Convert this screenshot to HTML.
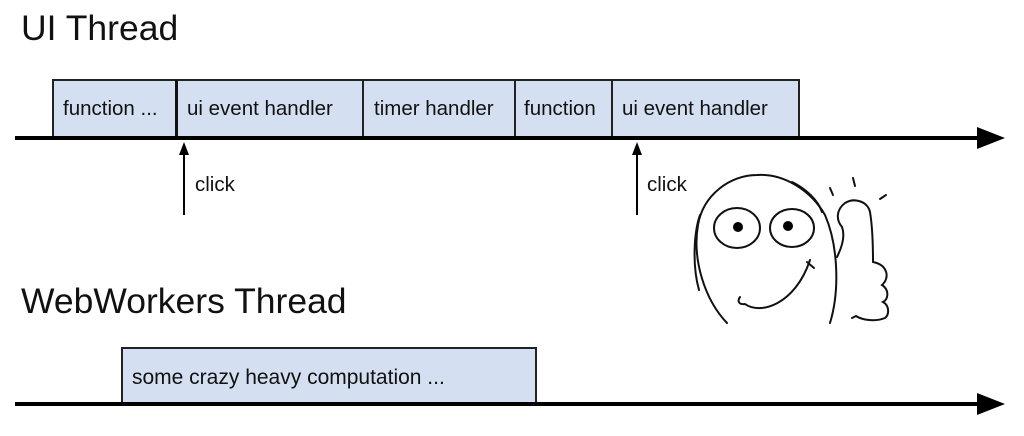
<!DOCTYPE html>
<html><head><meta charset="utf-8"><style>
html,body{margin:0;padding:0;background:#fff;}
svg{display:block;}
text{font-family:"Liberation Sans",Arial,sans-serif;fill:#111;}
</style></head><body>
<svg width="1024" height="436" viewBox="0 0 1024 436" xmlns="http://www.w3.org/2000/svg">
<text x="21" y="40" font-size="35.5">UI Thread</text>
<text x="21" y="313" font-size="35.5">WebWorkers Thread</text>

<g fill="#d4e0f1" stroke="#222" stroke-width="2">
<rect x="53" y="80" width="124" height="57"/>
<rect x="177" y="80" width="186" height="57"/>
<rect x="363" y="80" width="152" height="57"/>
<rect x="515" y="80" width="97" height="57"/>
<rect x="612" y="80" width="187" height="57"/>
<rect x="122" y="348" width="414" height="56"/>
</g>
<line x1="176.5" y1="80" x2="176.5" y2="137" stroke="#111" stroke-width="3"/>
<g font-size="20.5">
<text x="63" y="115">function ...</text>
<text x="187" y="115">ui event handler</text>
<text x="374" y="115">timer handler</text>
<text x="524" y="115">function</text>
<text x="622" y="115">ui event handler</text>
<text x="132" y="384" font-size="21">some crazy heavy computation ...</text>
<text x="195" y="191">click</text>
<text x="647" y="191">click</text>
</g>

<rect x="15" y="136" width="965" height="4" fill="#000"/>
<polygon points="977,127 1005,138 977,149" fill="#000"/>
<rect x="15" y="402" width="965" height="4" fill="#000"/>
<polygon points="977,393 1005,404 977,415" fill="#000"/>

<g stroke="#000" stroke-width="2">
<line x1="184" y1="152" x2="184" y2="215"/>
<line x1="637" y1="152" x2="637" y2="215"/>
</g>
<polygon points="184,142 179,155 189,155" fill="#000"/>
<polygon points="637,142 632,155 642,155" fill="#000"/>

<g fill="none" stroke="#111" stroke-width="2" stroke-linecap="round">
<path d="M727,323 C705,300 692,260 698,225 C703,195 730,175 757,175 C785,173 812,192 825,215 C838,245 840,290 830,323"/>
<path d="M699,290 C692,265 694,232 700,215"/>
<path d="M792,182 C805,188 818,200 822,212"/>
<ellipse cx="737" cy="228" rx="23" ry="20"/>
<ellipse cx="792" cy="228" rx="22" ry="19"/>
<path d="M740,297 C737,301 739,305 745,304 C760,315 795,305 810,260 M807,262 L814,268"/>
<path d="M837,257 C843,245 845,235 842,227 C836,220 836,210 845,203 C855,197 868,202 870,212 C873,230 873,250 873,262"/>
<path d="M873,262 C888,265 890,278 882,285 C890,290 888,300 883,302 C890,306 889,315 885,318 C875,322 862,320 856,316 L852,318"/>
<path d="M830,188 L833,195 M853,178 L855,186 M880,199 L886,195"/>
</g>
<circle cx="738" cy="227" r="5" fill="#000"/>
<circle cx="788" cy="226" r="5" fill="#000"/>
</svg>
</body></html>
